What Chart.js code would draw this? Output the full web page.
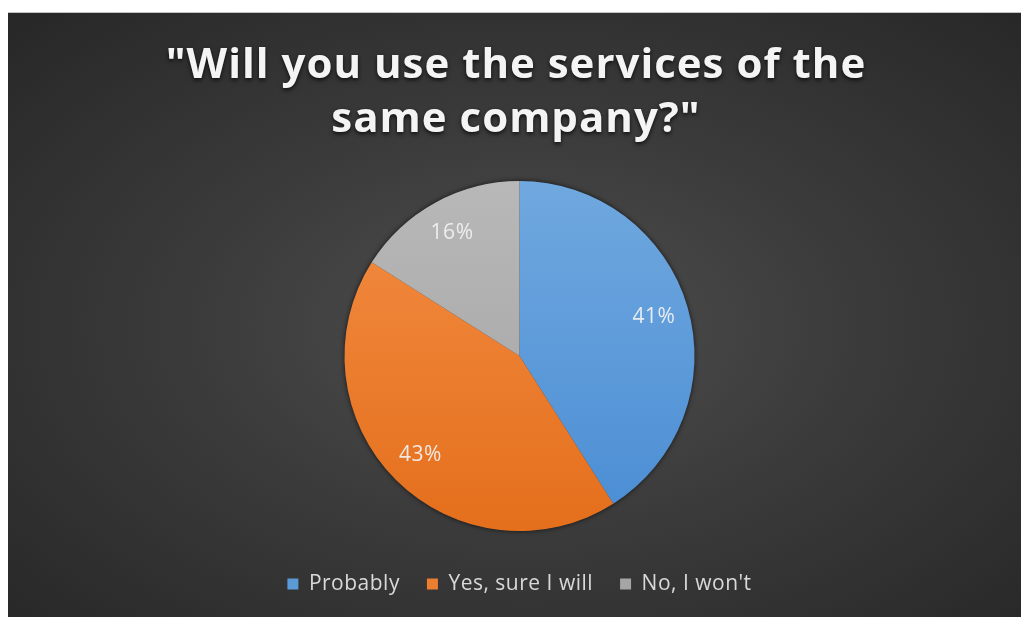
<!DOCTYPE html>
<html>
<head>
<meta charset="utf-8">
<script src="https://cdn.jsdelivr.net/npm/chart.js@4.4.1/dist/chart.umd.min.js"></script>
<style>
  html, body { margin: 0; padding: 0; background: #fff; }
  #panel {
    position: absolute; left: 8px; top: 12px;
    width: 1013px; height: 604px;
    border-top: 1px solid #c4c4c4;
    background: radial-gradient(ellipse farthest-corner at 51% 52%, #4f4f4f 0%, #3b3b3b 45%, #272727 100%);
  }
  canvas { display: block; }
</style>
</head>
<body>
<div id="panel"><canvas id="pie" width="1013" height="604"></canvas></div>
<script>
// survey answers
const titleLines = ['"Will you use the services of the', 'same company?"'];
const answers = ['Probably', 'Yes, sure I will', "No, I won't"];
const shares = [41, 43, 16];
const sliceTop = ['#70a8df', '#f38d44', '#b8b8b8'];
const sliceBottom = ['#4a8dd4', '#e46f1c', '#a2a2a2'];
const legendSwatch = ['#5b9bd5', '#ed7d31', '#a5a5a5'];

const PIE_R = 175;

// vertical gradient across the pie for each slice
function sliceFill(c) {
  const chart = c.chart;
  const area = chart.chartArea;
  if (!area) return legendSwatch[c.dataIndex];
  const cy = (area.top + area.bottom) / 2;
  const g = chart.ctx.createLinearGradient(0, cy - PIE_R, 0, cy + PIE_R);
  g.addColorStop(0, sliceTop[c.dataIndex]);
  g.addColorStop(1, sliceBottom[c.dataIndex]);
  return g;
}

// spaced text everywhere (set after resize so measuring uses it too)
const spacing = {
  id: 'spacing',
  beforeUpdate(chart) { chart.ctx.letterSpacing = '0.5px'; }
};

// heading with a soft drop shadow
const heading = {
  id: 'heading',
  afterDraw(chart) {
    const ctx = chart.ctx;
    ctx.save();
    ctx.font = 'bold 42px "Open Sans"';
    ctx.letterSpacing = '1px';
    ctx.textAlign = 'center';
    ctx.textBaseline = 'alphabetic';
    ctx.fillStyle = '#f4f4f4';
    ctx.shadowColor = 'rgba(0,0,0,0.75)';
    ctx.shadowBlur = 4;
    ctx.shadowOffsetY = 2;
    ctx.fillText(titleLines[0], 508, 65);
    ctx.fillText(titleLines[1], 508, 119);
    ctx.restore();
  }
};

// dark rim under the pie
const rim = {
  id: 'rim',
  beforeDatasetsDraw(chart) {
    const arc = chart.getDatasetMeta(0).data[0];
    if (!arc) return;
    const ctx = chart.ctx;
    ctx.save();
    ctx.beginPath();
    ctx.arc(arc.x, arc.y, arc.outerRadius, 0, Math.PI * 2);
    ctx.fillStyle = '#333';
    ctx.shadowColor = 'rgba(0,0,0,0.7)';
    ctx.shadowBlur = 5;
    ctx.fill();
    ctx.restore();
  }
};

// percentage labels inside each slice
const shareLabels = {
  id: 'shareLabels',
  afterDatasetsDraw(chart) {
    const ctx = chart.ctx;
    const meta = chart.getDatasetMeta(0);
    ctx.save();
    ctx.font = '21px "Open Sans"';
    ctx.letterSpacing = '0.5px';
    ctx.textAlign = 'center';
    ctx.textBaseline = 'middle';
    ctx.fillStyle = 'rgba(242,242,242,0.92)';
    meta.data.forEach((arc, i) => {
      const mid = (arc.startAngle + arc.endAngle) / 2;
      const r = arc.outerRadius * 0.8;
      ctx.fillText(shares[i] + '%', arc.x + Math.cos(mid) * r, arc.y + Math.sin(mid) * r);
    });
    ctx.restore();
  }
};

new Chart(document.getElementById('pie'), {
  type: 'pie',
  data: {
    labels: answers,
    datasets: [{
      data: shares,
      backgroundColor: sliceFill,
      borderWidth: 0
    }]
  },
  options: {
    responsive: false,
    animation: false,
    radius: PIE_R,
    layout: { padding: { top: 152.5, bottom: 12.5, left: 10, right: 0 } },
    plugins: {
      tooltip: { enabled: false },
      legend: {
        position: 'bottom',
        labels: {
          color: '#d9d9d9',
          font: { family: '"Open Sans"', size: 21 },
          boxWidth: 11,
          boxHeight: 11,
          padding: 27,
          generateLabels: chart => answers.map((a, i) => ({
            text: a,
            fillStyle: legendSwatch[i],
            strokeStyle: legendSwatch[i],
            lineWidth: 0,
            fontColor: '#d9d9d9',
            index: i
          }))
        }
      }
    }
  },
  plugins: [spacing, rim, shareLabels, heading]
});
</script>
</body>
</html>
